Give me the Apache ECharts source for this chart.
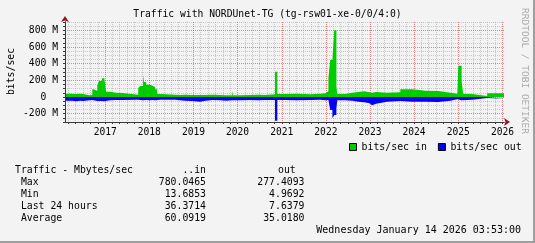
<!DOCTYPE html>
<html><head><meta charset="utf-8">
<script src="https://cdn.jsdelivr.net/npm/echarts@6/dist/echarts.min.js"></script>
<style>html,body{margin:0;padding:0;background:#f3f3f3}#c{width:535px;height:243px}</style>
</head><body><div id="c"></div>
<script>
// ---- data (M bits/sec) ----
const startDate = '2016-02-03';
const endDate = '2026-01-14';
const dates = ['2016-02-03','2016-04-01','2016-05-05','2016-06-07','2016-07-01','2016-08-22','2016-09-16','2016-10-01','2016-10-27','2016-11-10','2016-12-06','2016-12-24',
  '2017-01-08','2017-02-10','2017-04-01','2017-05-22','2017-10-01','2017-10-16','2017-11-10','2017-11-18','2017-12-06',
  '2018-01-08','2018-01-26','2018-02-17','2018-03-07','2018-04-01','2018-08-04','2018-09-13','2018-10-23','2018-12-20',
  '2019-02-24','2019-04-09','2019-06-07','2019-08-11','2019-09-27','2019-11-18','2019-11-25',
  '2020-01-22','2020-04-16','2020-06-21','2020-08-19','2020-11-06','2020-11-25',
  '2021-01-30','2021-05-08','2021-08-26','2021-11-18','2021-12-28',
  '2022-01-22','2022-02-06','2022-02-24','2022-03-11','2022-03-29','2022-04-05','2022-06-10','2022-08-08','2022-09-27','2022-11-14','2022-12-28',
  '2023-01-19','2023-02-20','2023-05-22','2023-09-09','2023-12-17',
  '2024-04-05','2024-07-20','2024-10-27','2024-12-24',
  '2025-01-01','2025-01-28','2025-02-10','2025-04-27','2025-08-28'];
const inMbps = [40,36,40,36,20,24,96,76,136,192,224,244,
  64,52,48,28,104,132,264,180,148,
  136,120,92,36,28,24,28,24,24,
  24,28,24,20,20,76,20,
  24,28,24,32,304,36,
  40,32,40,44,68,
  224,444,452,800,124,36,52,60,68,56,52,
  60,52,56,92,76,
  72,52,40,64,
  376,196,36,12,44];
const outMbps = [-44,-52,-44,-48,-40,-36,-44,-48,-52,-48,-52,-48,
  -40,-36,-36,-32,-40,-40,-44,-36,-40,
  -36,-40,-36,-32,-32,-40,-44,-48,-56,
  -44,-36,-40,-44,-40,-36,-40,
  -36,-40,-36,-36,-285,-36,
  -40,-36,-32,-40,-36,
  -60,-156,-256,-216,-136,-40,-44,-56,-64,-76,-100,
  -80,-56,-48,-56,-56,
  -60,-44,-28,-32,
  -40,-36,-32,-12,-20];
const yearLabels = ['2017','2018','2019','2020','2021','2022','2023','2024','2025','2026'];
const yMajorTicks = [-200,0,200,400,600,800];
const statNames = ['Max','Min','Last 24 hours','Average'];
const statIn = ['780.0465','13.6853','36.3714','60.0919'];
const statOut = ['277.4093','4.9692','7.6379','35.0180'];
const titleText = 'Traffic with NORDUnet-TG (tg-rsw01-xe-0/0/4:0)';
const dateText = 'Wednesday January 14 2026 03:53:00';

// ---- helpers ----
const MONO = 'DejaVu Sans Mono';
const toTime = s => { const p = s.split('-').map(Number); return new Date(p[0], p[1]-1, p[2]).getTime(); };
const tMin = toTime(startDate), tMax = toTime(endDate);
const yearTicks = yearLabels.map(y => toTime(y + '-01-01'));
const minorTicks = [];
for (let y = 2016; y <= 2026; y++) for (let m = 0; m < 12; m += 2) {
  const v = new Date(y, m, 1).getTime(); if (v > tMin && v < tMax) minorTicks.push(v);
}
const inData = dates.map((d,i) => [toTime(d), inMbps[i]]); inData.push([tMax, inMbps[inMbps.length-1]]);
const outData = dates.map((d,i) => [toTime(d), outMbps[i]]); outData.push([tMax, outMbps[outMbps.length-1]]);

const GRAY = 'rgba(140,140,140,0.42)';
const RED = 'rgba(255,0,0,0.32)';
const AXC = '#3a3a3a';
const ARC = '#8b1a1a';
const xBase = {type:'value', min:tMin, max:tMax, gridIndex:0, position:'bottom',
  axisLine:{show:false, onZero:false}, axisTick:{show:false}, axisLabel:{show:false}, splitLine:{show:false}};
const yBase = {type:'value', min:-300, max:900, gridIndex:0, position:'left',
  axisLine:{show:false, onZero:false}, axisTick:{show:false}, axisLabel:{show:false}, splitLine:{show:false}};

const chart = echarts.init(document.getElementById('c'), null, {renderer:'canvas'});
chart.setOption({
  animation:false,
  backgroundColor:'#f3f3f3',
  grid:{left:65, right:31, top:22, bottom:121, outerBoundsMode:'none'},
  xAxis:[
    Object.assign({}, xBase, {z:0, axisTick:{show:false, customValues:minorTicks},
      splitLine:{show:true, lineStyle:{color:GRAY, width:1, type:[1,1]}}}),
    Object.assign({}, xBase, {z:0, axisTick:{show:false, customValues:yearTicks},
      axisLabel:{show:true, customValues:yearTicks, margin:5, color:'#000', fontFamily:MONO, fontSize:9.6,
        formatter:v => String(new Date(v).getFullYear())},
      splitLine:{show:true, lineStyle:{color:RED, width:1, type:[1,1]}}}),
    Object.assign({}, xBase, {z:5, axisLine:{show:true, onZero:false, symbol:['none','arrow'], symbolSize:[6,6], symbolOffset:[0,6], lineStyle:{color:ARC, width:1}}}),
    Object.assign({}, xBase, {z:6, axisLine:{show:true, onZero:false, lineStyle:{color:AXC, width:1}},
      axisTick:{show:true, customValues:minorTicks, length:2, lineStyle:{color:AXC}}})
  ],
  yAxis:[
    Object.assign({}, yBase, {z:0, interval:50, splitLine:{show:true, lineStyle:{color:GRAY, width:1, type:[1,1]}}}),
    Object.assign({}, yBase, {z:0, axisTick:{show:false, customValues:yMajorTicks},
      axisLabel:{show:true, customValues:yMajorTicks, margin:7, color:'#000', fontFamily:MONO, fontSize:9.7,
        formatter:v => v === 0 ? '0  ' : v + ' M'},
      splitLine:{show:true, lineStyle:{color:RED, width:1, type:[1,1]}}}),
    Object.assign({}, yBase, {z:5, axisLine:{show:true, onZero:false, symbol:['none','arrow'], symbolSize:[6,6], symbolOffset:[0,6], lineStyle:{color:ARC, width:1}}}),
    Object.assign({}, yBase, {z:6, interval:50, axisLine:{show:true, onZero:false, lineStyle:{color:AXC, width:1}},
      axisTick:{show:true, length:2, lineStyle:{color:AXC}}})
  ],
  legend:{left:344, top:137, itemWidth:7, itemHeight:7, itemGap:11, icon:'rect',
    itemStyle:{borderColor:'#000', borderWidth:1},
    textStyle:{fontFamily:MONO, fontSize:9.9, color:'#000'},
    data:['bits/sec in','bits/sec out']},
  series:[
    {name:'bits/sec in', type:'line', xAxisIndex:0, yAxisIndex:0, step:'end', symbol:'none', z:2,
      color:'#00cc00', itemStyle:{color:'#00cc00'}, lineStyle:{opacity:0, width:0},
      areaStyle:{color:'#00cc00', opacity:1}, data:inData},
    {name:'bits/sec out', type:'line', xAxisIndex:0, yAxisIndex:0, step:'end', symbol:'none', z:2,
      color:'#0000ff', itemStyle:{color:'#0000ff'}, lineStyle:{opacity:0, width:0},
      areaStyle:{color:'#0000ff', opacity:1}, data:outData}
  ],
  graphic:(function(){
    const g = [];
    const txt = (x, y, s, align, extra) => g.push(Object.assign({type:'text', x:x, y:y, silent:true,
      style:{text:s, fill:'#000', font:'9.8px ' + MONO, textAlign:align || 'left', textVerticalAlign:'middle'}}, extra || {}));
    txt(267.5, 14.5, titleText, 'center', {style:{text:titleText, fill:'#000', font:'9.7px ' + MONO, textAlign:'center', textVerticalAlign:'middle'}});
    g.push({type:'text', x:11.5, y:71.5, rotation:Math.PI/2, silent:true,
      style:{text:'bits/sec', fill:'#000', font:'9.8px ' + MONO, textAlign:'center', textVerticalAlign:'middle'}});
    g.push({type:'text', x:524, y:71, rotation:-Math.PI/2, silent:true,
      style:{text:'RRDTOOL / TOBI OETIKER', fill:'#a8a8a8', font:'9.5px ' + MONO, textAlign:'center', textVerticalAlign:'middle'}});
    txt(15, 170.7, 'Traffic - Mbytes/sec');
    txt(206, 170.7, '..in', 'right');
    txt(278, 170.7, 'out');
    statNames.forEach((n, i) => {
      const y = 182.4 + i * 12.1;
      txt(15, y, ' ' + n);
      txt(206, y, statIn[i], 'right');
      txt(304.5, y, statOut[i], 'right');
    });
    txt(521, 230, dateText, 'right', {style:{text:dateText, fill:'#000', font:'10px ' + MONO, textAlign:'right', textVerticalAlign:'middle'}});
    g.push({type:'rect', silent:true, shape:{x:0, y:241, width:535, height:2}, style:{fill:'#9e9e9e'}});
    g.push({type:'rect', silent:true, shape:{x:533, y:0, width:2, height:243}, style:{fill:'#9e9e9e'}});
    return g;
  })()
});
</script></body></html>
